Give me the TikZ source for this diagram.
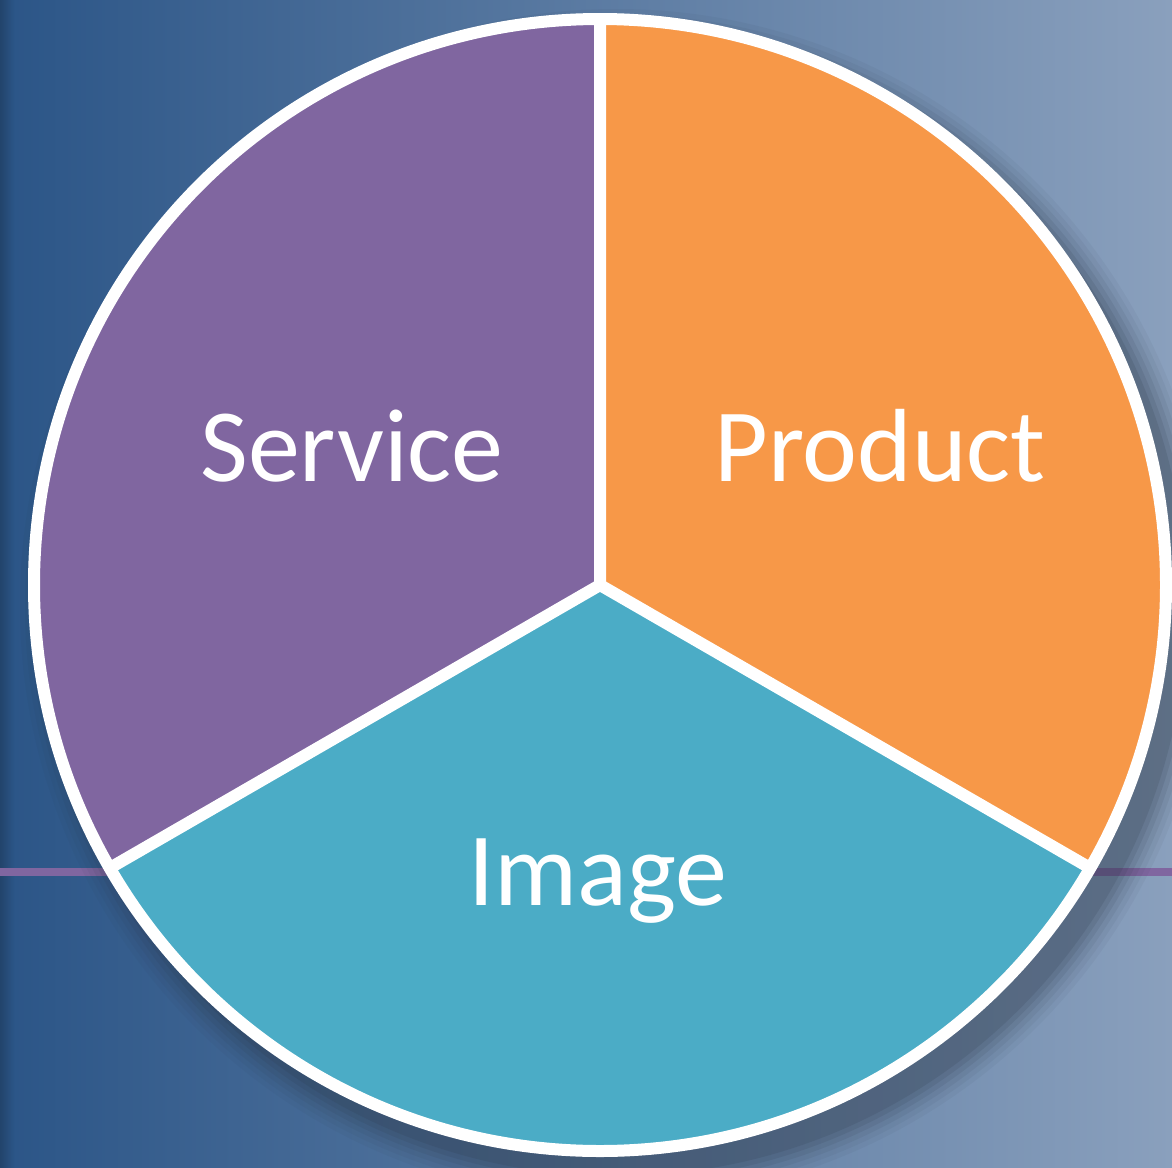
\documentclass[tikz,border=0pt]{standalone}
\usepackage{fontspec}
\setmainfont{Carlito}
\definecolor{bgL}{HTML}{2B5587}
\definecolor{bgR}{HTML}{8AA0BD}
\definecolor{pur}{HTML}{8066A0}
\definecolor{ora}{HTML}{F79848}
\definecolor{blu}{HTML}{4BACC6}
\definecolor{shd}{HTML}{2A3646}
\tikzset{
  wedge/.style={draw=white, line width=12pt, line join=round},
  lbl/.style={text=white, anchor=base, font=\fontsize{104}{120}\selectfont, inner sep=0pt}
}
\begin{document}
\begin{tikzpicture}[x=1pt,y=-1pt]
\useasboundingbox (0,0) rectangle (1172,1167);
\shade[left color=bgL, right color=bgR] (0,0) rectangle (1172,1167);
\shade[left color=black!50!bgL, right color=bgL, opacity=0.4] (0,0) rectangle (14,1167);
% purple line
\draw[pur, line width=8pt] (0,872) -- (1172,872);
\begin{scope}[shift={(600,585)}, y=1pt]
  % shadow
  \foreach \r/\o in {596/0.05,591/0.06,586/0.08,581/0.1,576/0.12,571/0.15} {
    \fill[shd, opacity=\o] (16,-20) circle (\r);
  }
  \coordinate (c) at (0,0);
  \coordinate (t) at (90:566);
  \coordinate (l) at (210:566);
  \coordinate (r) at (-30:566);
  \fill[pur] (c) -- (t) arc[start angle=90, end angle=210, radius=566] -- cycle;
  \fill[ora] (c) -- (r) arc[start angle=-30, end angle=90, radius=566] -- cycle;
  \fill[blu] (c) -- (l) arc[start angle=210, end angle=330, radius=566] -- cycle;
  \draw[wedge] (c) circle (566);
  \draw[wedge] (t) -- (c) -- (l);
  \draw[wedge] (c) -- (r);
\end{scope}
\node[lbl] (service) at (352,481) {Service};
\node[lbl] (product) at (880,481) {Product};
\node[lbl] (image) at (598,905) {Image};
\end{tikzpicture}
\end{document}
